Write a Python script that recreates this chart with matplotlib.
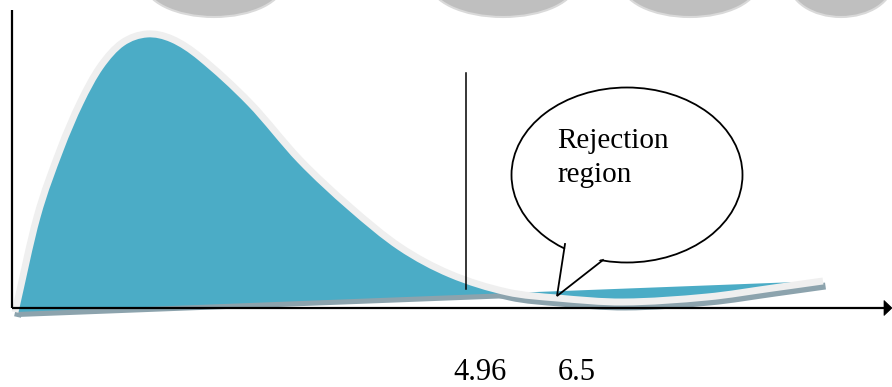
import numpy as np
import matplotlib
matplotlib.use("Agg")
import matplotlib.pyplot as plt
from matplotlib.patches import Ellipse, Polygon, PathPatch
from matplotlib.path import Path

# ---- data (pixel space of the drawing) ----
curve_x = [15, 37, 60, 80, 100, 122, 147, 172, 200, 250, 300, 350, 400, 450,
           507, 557, 623, 707, 773, 823]
curve_y = [312, 217, 150, 103, 67, 43, 34, 39, 57, 103, 160, 207, 247, 274,
           292, 298, 302, 297, 288, 281]
critical_x = 466
tick_labels = ["4.96", "6.5"]
tick_label_x = [480, 577]
bubble_lines = ["Rejection", "region"]
circle_x = [214, 503, 690, 841]
circle_w = [140, 147, 138, 104]

BLUE = "#4BACC6"
OUTLINE = "#EFEFEF"
SHADOW = "#8CA3AD"
CIRCLE = "#BFBFBF"

fig = plt.figure(figsize=(8.92, 3.87), dpi=100)
ax = fig.add_axes([0, 0, 1, 1])
ax.set_xlim(0, 892)
ax.set_ylim(387, 0)
ax.axis("off")


def smooth_path(xs, ys):
    """Cubic Hermite (in x) through the read points, expressed as Bezier path."""
    x = np.asarray(xs, float)
    y = np.asarray(ys, float)
    n = len(x)
    m = np.zeros(n)
    for i in range(n):
        if i == 0:
            m[i] = (y[1] - y[0]) / (x[1] - x[0])
        elif i == n - 1:
            m[i] = (y[-1] - y[-2]) / (x[-1] - x[-2])
        else:
            m[i] = (y[i + 1] - y[i - 1]) / (x[i + 1] - x[i - 1])
    verts = [(x[0], y[0])]
    codes = [Path.MOVETO]
    for i in range(n - 1):
        h = x[i + 1] - x[i]
        c1 = (x[i] + h / 3, y[i] + m[i] * h / 3)
        c2 = (x[i + 1] - h / 3, y[i + 1] - m[i + 1] * h / 3)
        verts += [c1, c2, (x[i + 1], y[i + 1])]
        codes += [Path.CURVE4] * 3
    return verts, codes


verts, codes = smooth_path(curve_x, curve_y)
closed_verts = verts + [verts[0], verts[0]]
closed_codes = codes + [Path.LINETO, Path.CLOSEPOLY]

# top decorative circles
for cx, w in zip(circle_x, circle_w):
    ax.add_patch(Ellipse((cx, -18), w, 70, facecolor=CIRCLE, edgecolor="#d9d9d9",
                         lw=1.5, zorder=1))

# shadow
off = np.array([2.5, 5.0])
sh_verts = [np.asarray(v) + off for v in closed_verts]
ax.add_patch(PathPatch(Path(sh_verts, closed_codes), facecolor=SHADOW,
                       edgecolor="none", zorder=2))
sh_line = [np.asarray(v) + off for v in verts]
ax.add_patch(PathPatch(Path(sh_line, codes), facecolor="none", edgecolor=SHADOW,
                       lw=5, capstyle="butt", zorder=2))

# blue filled area
ax.add_patch(PathPatch(Path(closed_verts, closed_codes), facecolor=BLUE,
                       edgecolor="none", zorder=3))
# light outline along the curve
ax.add_patch(PathPatch(Path(verts, codes), facecolor="none", edgecolor=OUTLINE,
                       lw=5, capstyle="butt", zorder=4))

# axes
ax.plot([12, 12], [10, 308], color="black", lw=1.6, zorder=5, solid_capstyle="butt")
ax.plot([12, 886], [308, 308], color="black", lw=1.6, zorder=5, solid_capstyle="butt")
ax.add_patch(Polygon([[884, 300.5], [892, 308], [884, 315.5]], closed=True,
                     facecolor="black", edgecolor="black", lw=0.5, zorder=5))

# critical value line
ax.plot([critical_x, critical_x], [73, 289], color="black", lw=1.1, zorder=5)

# speech bubble
ax.add_patch(Ellipse((627, 175), 231, 175, facecolor="white", edgecolor="black",
                     lw=1.3, zorder=6))
ax.add_patch(Polygon([[566, 240], [565.5, 246], [558, 292], [601, 259], [603, 254]],
                     closed=True, facecolor="white", edgecolor="none", zorder=7))
ax.plot([565, 557, 603], [244, 296, 260], color="black", lw=1.3, zorder=8,
        solid_joinstyle="miter")

ax.text(557, 148, bubble_lines[0], fontsize=21, family="Liberation Serif",
        ha="left", va="baseline", zorder=9)
ax.text(557, 182, bubble_lines[1], fontsize=21, family="Liberation Serif",
        ha="left", va="baseline", zorder=9)

for lbl, lx in zip(tick_labels, tick_label_x):
    ax.text(lx, 380, lbl, fontsize=22, family="Liberation Serif",
            ha="center", va="baseline", zorder=9)

fig.savefig("out.png", dpi=100)
